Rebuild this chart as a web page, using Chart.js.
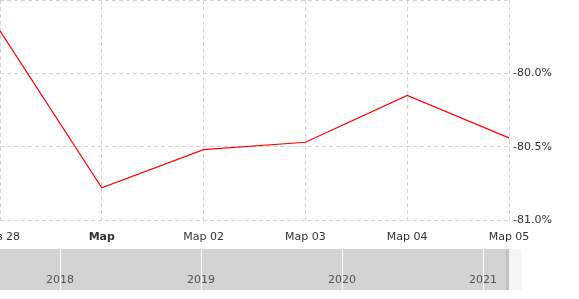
<!DOCTYPE html>
<html>
<head>
<meta charset="utf-8">
<script src="https://cdn.jsdelivr.net/npm/chart.js@4"></script>
<style>
  body { margin: 0; background: #fff; }
  #wrap { position: relative; width: 579px; height: 299px; }
  #main { position: absolute; left: 0; top: 0; width: 579px; height: 248px; }
  #nav { position: absolute; left: 0; top: 249px; width: 509px; height: 41px; background: #d3d3d3; }
  #navEdge { position: absolute; left: 506px; top: 249px; width: 3px; height: 41px; background: #c2c2c2; }
  #navRest { position: absolute; left: 509px; top: 249px; width: 13px; height: 41px; background: #f5f5f5; }
</style>
</head>
<body>
<div id="wrap">
  <div id="main"><canvas id="mainChart"></canvas></div>
  <div id="nav"><canvas id="navChart"></canvas></div>
  <div id="navEdge"></div>
  <div id="navRest"></div>
</div>
<script>
const labels = ["Фев 28", "Мар", "Мар 02", "Мар 03", "Мар 04", "Мар 05"];
const values = [-79.71, -80.78, -80.52, -80.47, -80.15, -80.44];
const yTicks = [-81.0, -80.5, -80.0, -79.5];
const navYears = [2018, 2019, 2020, 2021];

Chart.defaults.font.family = "'DejaVu Sans', Verdana, sans-serif";
Chart.defaults.font.size = 11;
Chart.defaults.animation = false;

const gridColor = "#d4d4d4";

new Chart(document.getElementById("mainChart").getContext("2d"), {
  type: "line",
  data: {
    labels: labels,
    datasets: [
      {
        data: values,
        borderColor: "#ff0000",
        borderWidth: 1.2,
        pointRadius: 0,
        tension: 0,
        fill: false,
      },
    ],
  },
  options: {
    responsive: true,
    maintainAspectRatio: false,
    layout: { padding: 0 },
    plugins: {
      legend: { display: false },
      tooltip: { enabled: false },
    },
    scales: {
      x: {
        offset: false,
        grid: {
          color: gridColor,
          drawTicks: false,
        },
        border: { display: false, dash: [4, 3] },
        ticks: {
          autoSkip: false,
          maxRotation: 0,
          padding: 11,
          color: "#333",
          font: function (ctx) {
            return ctx.index === 1 ? { weight: "bold" } : {};
          },
        },
        afterFit: function (s) {
          s.height = 28;
          s.paddingLeft = 0;
          s.paddingRight = 0;
        },
      },
      y: {
        position: "right",
        min: -81,
        max: -79.5,
        border: { display: false, dash: [4, 3] },
        grid: {
          color: gridColor,
          drawTicks: false,
        },
        afterBuildTicks: function (s) {
          s.ticks = yTicks.map((v) => ({ value: v }));
        },
        ticks: {
          padding: 4,
          color: "#333",
          callback: function (value) {
            if (value === -79.5) return "";
            return value.toFixed(1) + "%";
          },
        },
        afterFit: function (s) {
          s.width = 70;
          s.paddingTop = 0;
          s.paddingBottom = 0;
        },
      },
    },
  },
});

// navigator strip with year marks
new Chart(document.getElementById("navChart").getContext("2d"), {
  type: "line",
  data: { datasets: [] },
  options: {
    responsive: true,
    maintainAspectRatio: false,
    layout: { padding: 0 },
    plugins: {
      legend: { display: false },
      tooltip: { enabled: false },
    },
    scales: {
      x: {
        type: "linear",
        min: 2017.574,
        max: 2021.184,
        border: { display: false },
        grid: {
          color: "#ffffff",
          tickColor: "#ffffff",
          drawTicks: true,
          tickLength: 40,
        },
        afterBuildTicks: function (s) {
          s.ticks = navYears.map((v) => ({ value: v }));
        },
        ticks: {
          padding: -16,
          color: "#555",
          callback: function (value) {
            return String(value);
          },
        },
        afterFit: function (s) {
          s.height = 40;
          s.paddingLeft = 0;
          s.paddingRight = 0;
        },
      },
      y: {
        display: false,
        min: 0,
        max: 1,
      },
    },
  },
});
</script>
</body>
</html>
